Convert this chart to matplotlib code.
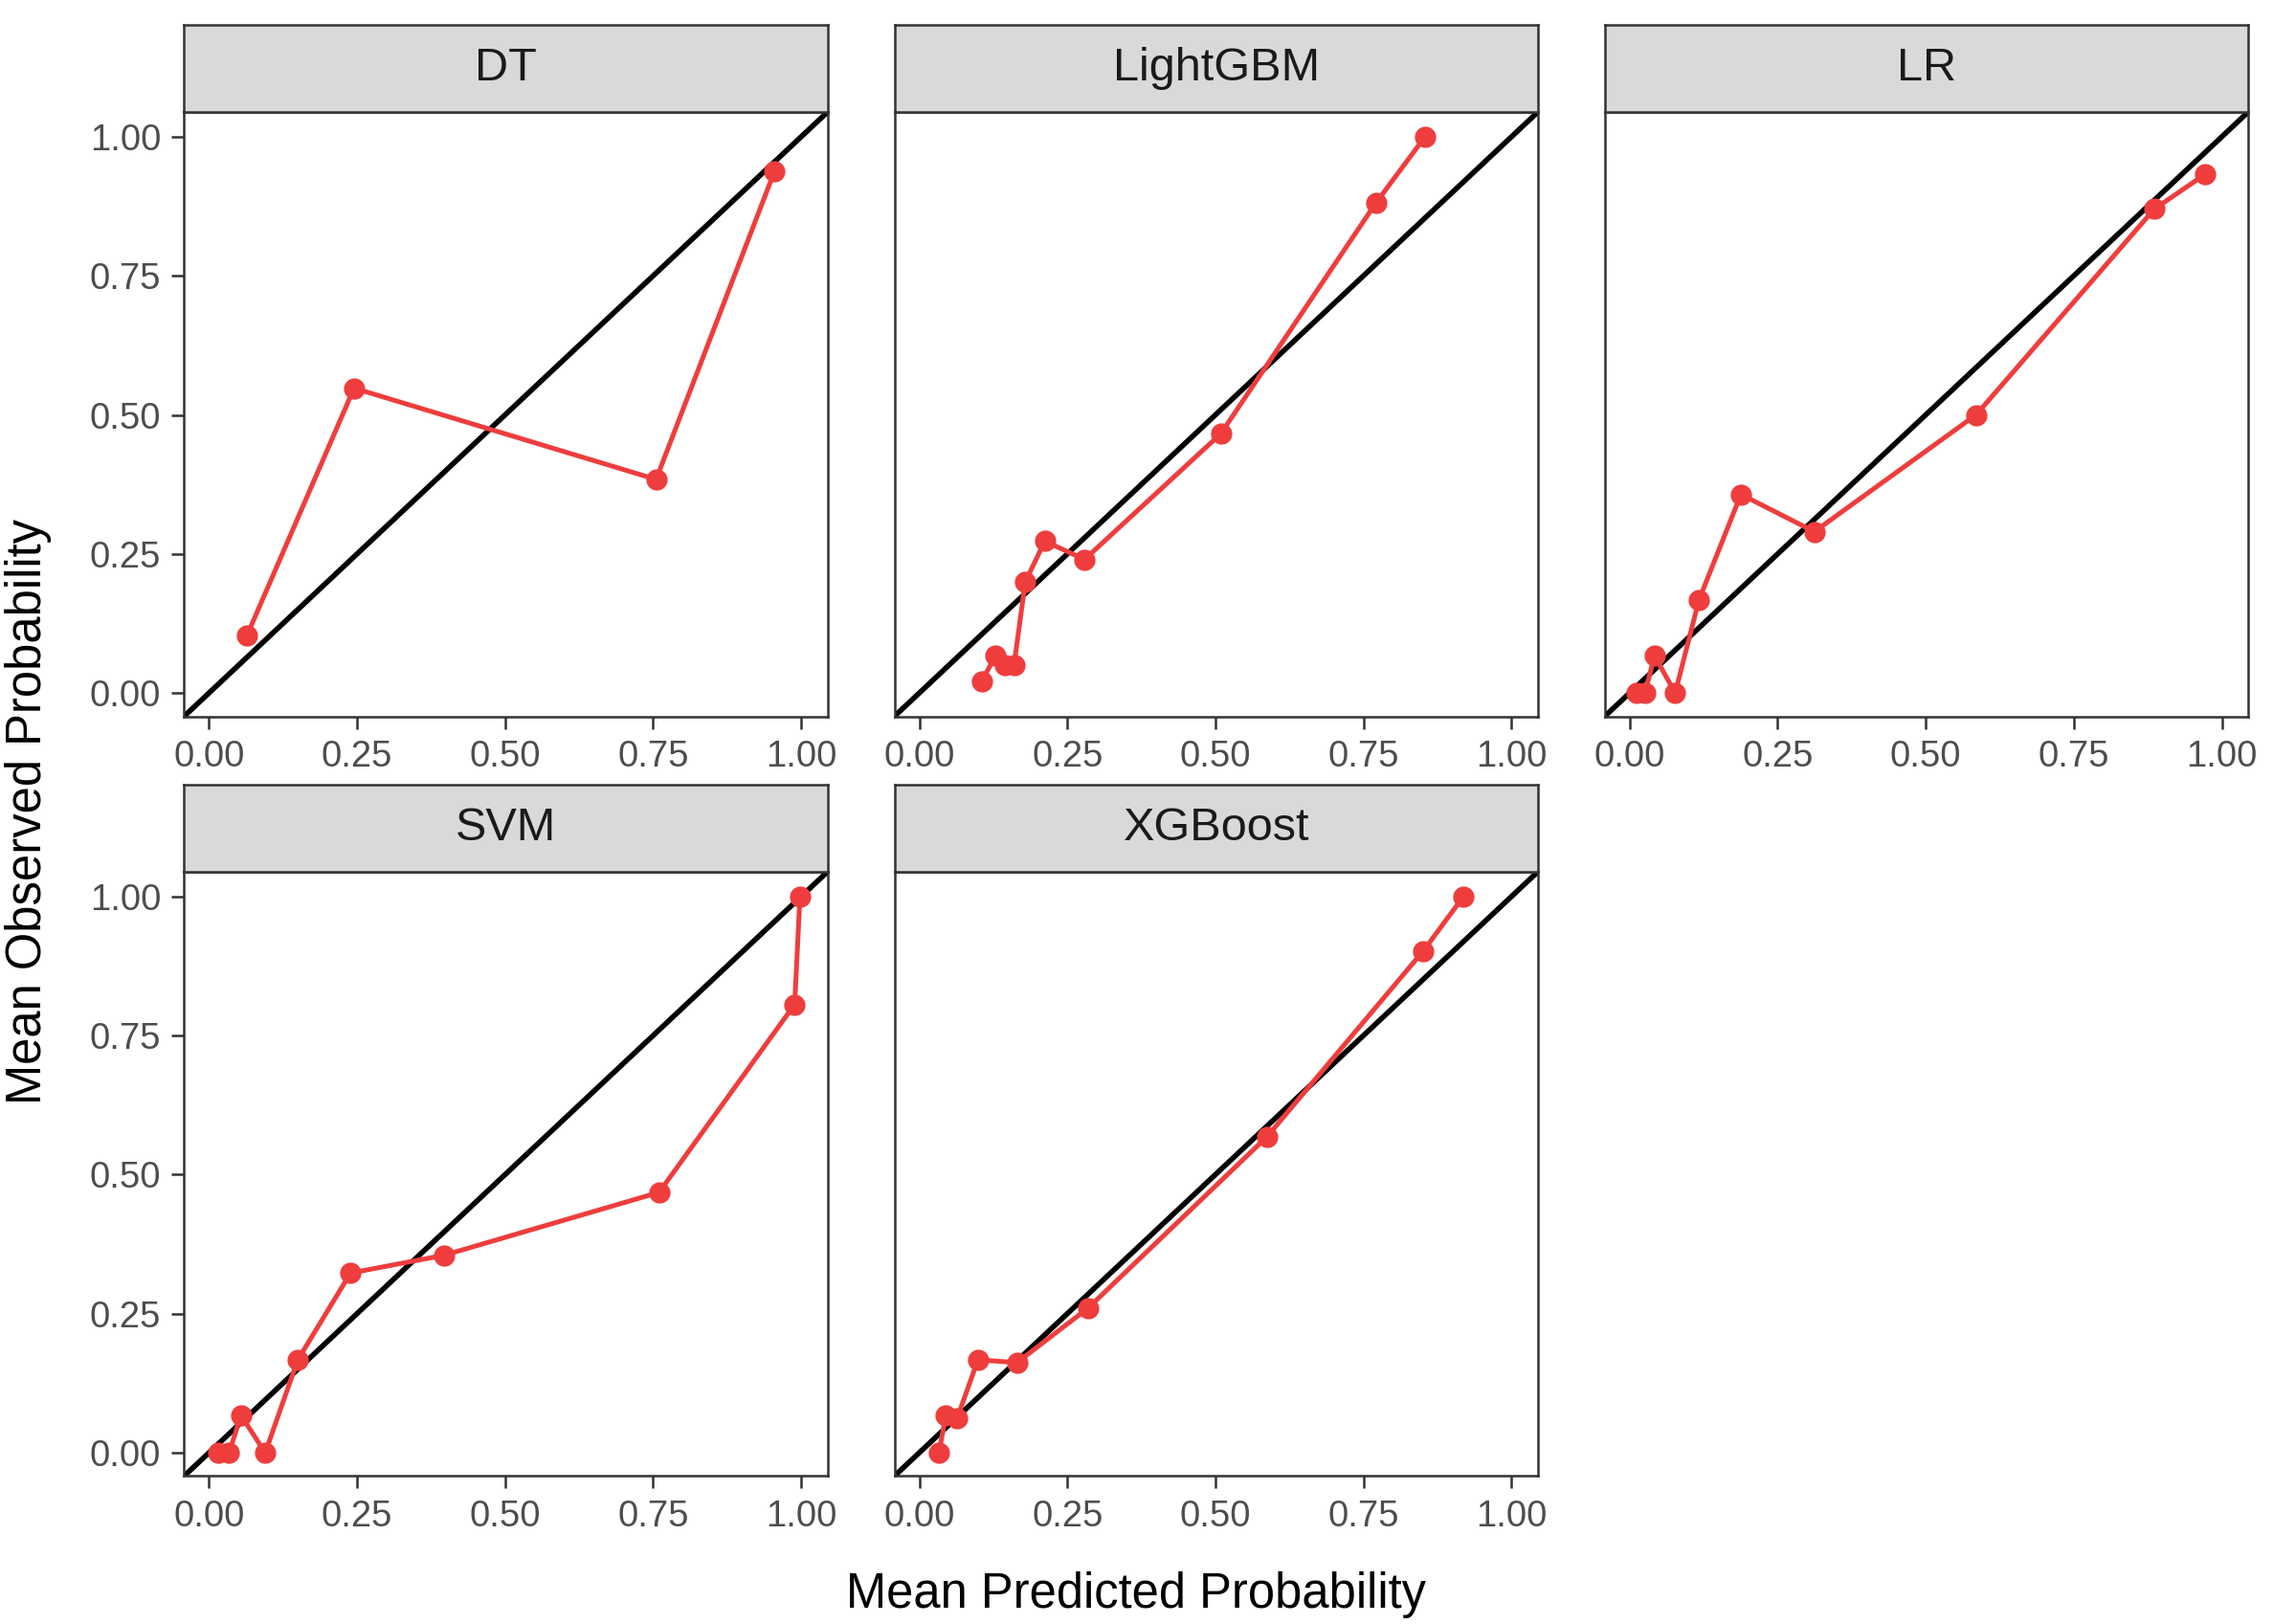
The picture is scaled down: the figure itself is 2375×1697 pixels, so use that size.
import numpy as np
import matplotlib
matplotlib.use("Agg")
from matplotlib import pyplot as plt

plt.rcParams['font.family'] = ['Liberation Sans', 'DejaVu Sans']

models = ['DT', 'LightGBM', 'LR', 'SVM', 'XGBoost']

dt_pred = [0.064, 0.245, 0.755, 0.955]
dt_obs = [0.103, 0.548, 0.384, 0.938]

lgbm_pred = [0.105, 0.129, 0.145, 0.160, 0.179, 0.212, 0.279, 0.509, 0.771, 0.854]
lgbm_obs = [0.021, 0.067, 0.050, 0.050, 0.200, 0.273, 0.240, 0.466, 0.881, 1.000]

lr_pred = [0.011, 0.026, 0.042, 0.077, 0.117, 0.188, 0.312, 0.585, 0.886, 0.971]
lr_obs = [0.000, 0.000, 0.067, 0.000, 0.167, 0.357, 0.290, 0.500, 0.870, 0.932]

svm_pred = [0.016, 0.034, 0.054, 0.095, 0.150, 0.239, 0.397, 0.760, 0.989, 0.998]
svm_obs = [0.000, 0.000, 0.067, 0.000, 0.167, 0.323, 0.355, 0.468, 0.806, 1.000]

xgb_pred = [0.033, 0.045, 0.064, 0.099, 0.165, 0.285, 0.587, 0.851, 0.919]
xgb_obs = [0.000, 0.067, 0.062, 0.167, 0.162, 0.260, 0.568, 0.902, 1.000]

data = {
    'DT': (dt_pred, dt_obs),
    'LightGBM': (lgbm_pred, lgbm_obs),
    'LR': (lr_pred, lr_obs),
    'SVM': (svm_pred, svm_obs),
    'XGBoost': (xgb_pred, xgb_obs),
}

ticks = [0.0, 0.25, 0.5, 0.75, 1.0]
tick_labels = ['0.00', '0.25', '0.50', '0.75', '1.00']

red = '#EF3D3D'
grey20 = '#333333'
grey30 = '#4D4D4D'

fig = plt.figure(figsize=(23.75, 16.97), dpi=100)

# panel layout (figure fractions)
lefts = [0.0810, 0.3935, 0.7060]
width = 0.2832
bottoms = [0.5589, 0.0911]
height = 0.3723
strip_h = 0.0536

lo, hi = -0.042, 1.045

for i, name in enumerate(models):
    r, c = divmod(i, 3)
    ax = fig.add_axes([lefts[c], bottoms[r], width, height])
    x, y = data[name]
    ax.plot([lo, hi], [lo, hi], color='black', lw=4.0, zorder=2,
            solid_capstyle='butt')
    ax.plot(x, y, color=red, lw=3.6, marker='o', ms=15, zorder=3,
            solid_joinstyle='round')
    ax.set_xlim(lo, hi)
    ax.set_ylim(lo, hi)
    ax.set_xticks(ticks)
    ax.set_xticklabels(tick_labels)
    ax.tick_params(axis='both', length=9.5, width=1.8, color=grey20,
                   labelsize=27.5, labelcolor=grey30, pad=8)
    if c == 0:
        ax.set_yticks(ticks)
        ax.set_yticklabels(tick_labels)
    else:
        ax.set_yticks([])
    for s in ax.spines.values():
        s.set_color(grey20)
        s.set_linewidth(1.8)

    sax = fig.add_axes([lefts[c], bottoms[r] + height, width, strip_h])
    sax.set_facecolor('#D9D9D9')
    sax.set_xticks([])
    sax.set_yticks([])
    for s in sax.spines.values():
        s.set_color(grey20)
        s.set_linewidth(1.8)
    sax.text(0.5, 0.5, name, transform=sax.transAxes, ha='center',
             va='center', fontsize=35, color='#1A1A1A')

fig.text(0.5, 0.018, 'Mean Predicted Probability', ha='center',
         va='center', fontsize=36.5)
fig.text(0.0125, 0.50, 'Mean Observed Probability', ha='center',
         va='center', rotation=90, fontsize=36.5)

fig.savefig('out.png', dpi=100)
